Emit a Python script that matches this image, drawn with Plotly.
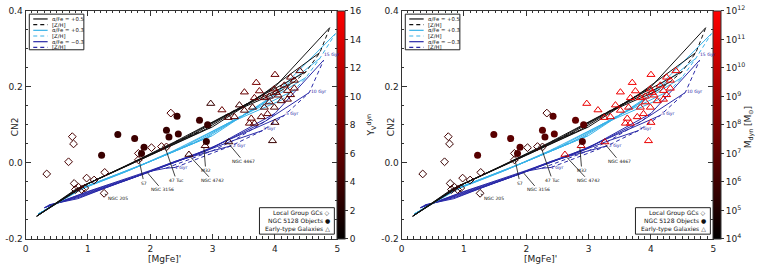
import plotly.graph_objects as go

W, H = 759, 269

# ---------------- observational data ----------------
# Local Group globular clusters (open diamonds)
GC_X = [0.34, 0.69, 0.75, 0.77, 0.78, 0.80, 0.85, 0.90, 0.95, 0.98, 1.10, 1.27, 1.26, 1.81, 1.81, 2.02, 2.18, 2.26, 2.33]
GC_Y = [-0.029, 0.003, 0.069, 0.050, -0.054, -0.070, -0.064, -0.070, -0.066, -0.040, -0.045, -0.025, -0.080, 0.025, 0.008, 0.040, 0.043, 0.042, 0.131]
GC_UPS = [4.0, 4.5, 4.5, 4.0, 3.5, 4.0, 4.5, 4.0, 4.5, 4.5, 4.0, 4.5, 4.0, 5.0, 4.5, 4.5, 5.0, 4.5, 5.0]
GC_LOGM = [5.9, 5.7, 6.1, 5.8, 5.6, 5.7, 5.9, 5.7, 5.8, 6.0, 5.8, 5.9, 5.6, 6.1, 5.9, 5.8, 6.2, 5.9, 6.3]

# NGC 5128 objects (filled circles)
N5128_X = [1.22, 1.48, 1.75, 1.86, 1.90, 2.26, 2.30, 2.45, 2.43, 2.79, 2.92, 2.90]
N5128_Y = [0.020, 0.075, 0.064, 0.025, 0.041, 0.086, 0.068, 0.076, 0.123, 0.112, 0.100, 0.056]
N5128_UPS = [3.6, 3.4, 3.8, 3.5, 3.7, 3.4, 3.6, 3.8, 3.5, 3.9, 3.6, 3.4]
N5128_LOGM = [6.7, 6.8, 6.9, 6.6, 6.8, 6.9, 6.7, 7.0, 6.8, 7.1, 6.9, 6.6]

# Early-type galaxies (open triangles)
ETG_X = [2.62, 2.88, 2.97, 3.15, 3.25, 3.26, 3.43, 3.35, 3.51, 3.51, 3.59, 3.62, 3.64, 3.67, 3.67, 3.70, 3.75, 3.78, 3.83, 3.83,
         3.88, 3.91, 3.91, 3.96, 3.99, 3.99, 4.00, 4.00, 4.02, 4.05, 4.10, 4.15, 4.20, 4.20, 4.25, 4.25, 4.31, 4.31, 4.40]
ETG_Y = [0.022, 0.045, 0.156, 0.139, 0.119, 0.055, 0.152, 0.121, 0.186, 0.138, 0.104, 0.117, 0.146, 0.104, 0.171, 0.211, 0.189, 0.121, 0.146, 0.171,
         0.129, 0.175, 0.160, 0.058, 0.146, 0.194, 0.106, 0.232, 0.185, 0.178, 0.163, 0.204, 0.190, 0.167, 0.225, 0.179, 0.217, 0.196, 0.242]
ETG_UPS = [4.0, 4.5, 3.5, 6.5, 5.0, 3.5, 4.0, 5.5, 6.5, 5.0, 6.0, 6.5, 4.5, 5.5, 6.5, 7.5, 7.0, 5.5, 5.0, 6.5,
           6.0, 6.5, 5.5, 3.5, 5.0, 7.0, 4.0, 6.5, 7.0, 6.0, 5.5, 7.0, 6.5, 5.5, 6.5, 6.0, 6.0, 6.5, 5.5]
ETG_LOGM = [10.8, 10.2, 11.4, 11.2, 11.0, 10.6, 11.3, 11.2, 11.5, 11.1, 11.3, 11.4, 11.2, 11.3, 11.4, 11.6, 11.5, 11.2, 11.2, 11.4,
            11.3, 11.5, 11.2, 11.4, 11.2, 11.5, 11.3, 11.6, 11.5, 11.4, 11.3, 11.5, 11.4, 11.2, 11.5, 11.3, 11.4, 11.5, 11.4]

# ---------------- SSP model grids ----------------
# rows = ages, columns = [Z/H] from metal-poor to metal-rich
A05_AGES = ["2 Gyr", "3 Gyr", "5 Gyr", "10 Gyr", "15 Gyr"]
A05_X = [[0.18, 0.80, 1.60, 2.40, 3.20, 4.10],
         [0.18, 0.85, 1.70, 2.55, 3.40, 4.30],
         [0.18, 0.90, 1.80, 2.70, 3.60, 4.50],
         [0.18, 0.95, 1.90, 2.85, 3.80, 4.72],
         [0.18, 1.00, 2.00, 3.00, 4.00, 4.88]]
A05_Y = [[-0.140, -0.070, -0.008, 0.056, 0.125, 0.190],
         [-0.140, -0.066, -0.001, 0.066, 0.142, 0.212],
         [-0.140, -0.062, 0.006, 0.076, 0.160, 0.240],
         [-0.140, -0.058, 0.013, 0.085, 0.180, 0.290],
         [-0.140, -0.055, 0.020, 0.095, 0.200, 0.356]]

A03_AGES = ["2 Gyr", "3 Gyr", "5 Gyr", "10 Gyr", "15 Gyr"]
A03_X = [[0.20, 0.80, 1.60, 2.40, 3.20, 4.10],
         [0.20, 0.85, 1.70, 2.55, 3.40, 4.30],
         [0.20, 0.90, 1.80, 2.70, 3.60, 4.50],
         [0.20, 0.95, 1.90, 2.85, 3.80, 4.72],
         [0.20, 1.00, 2.00, 3.00, 4.00, 4.97]]
A03_Y = [[-0.135, -0.075, -0.024, 0.034, 0.100, 0.165],
         [-0.135, -0.071, -0.017, 0.043, 0.118, 0.190],
         [-0.135, -0.067, -0.010, 0.052, 0.135, 0.225],
         [-0.135, -0.063, -0.003, 0.062, 0.155, 0.275],
         [-0.135, -0.060, 0.004, 0.072, 0.180, 0.340]]

AM03_AGES = ["1 Gyr", "2 Gyr", "3 Gyr", "5 Gyr", "10 Gyr", "15 Gyr"]
AM03_X = [[0.38, 0.84, 1.50, 2.00, 2.25, 2.40],
          [0.36, 0.87, 1.65, 2.40, 3.00, 3.30],
          [0.34, 0.90, 1.75, 2.60, 3.35, 3.80],
          [0.32, 0.93, 1.85, 2.75, 3.60, 4.15],
          [0.30, 0.97, 1.93, 2.90, 3.85, 4.55],
          [0.30, 1.00, 2.00, 3.00, 4.00, 4.78]]
AM03_Y = [[-0.110, -0.094, -0.052, -0.022, -0.014, -0.012],
          [-0.112, -0.090, -0.044, 0.004, 0.032, 0.045],
          [-0.114, -0.086, -0.038, 0.015, 0.060, 0.085],
          [-0.116, -0.082, -0.032, 0.024, 0.085, 0.125],
          [-0.118, -0.078, -0.026, 0.032, 0.110, 0.185],
          [-0.118, -0.075, -0.020, 0.040, 0.130, 0.270]]

# text labels
AGE_LABELS = ["1 Gyr", "2 Gyr", "3 Gyr", "5 Gyr", "10 Gyr", "15 Gyr"]
OBJ_LABELS = ["NGC 205", "S7", "NGC 3156", "47 Tuc", "NGC 4742", "M32", "NGC 4467"]

# ---------------- layout helpers ----------------
OFF = [0.0, 379.0]
PL, PR, PT, PB = 22.7, 337.0, 6.0, 243.0
BLACK, LBLUE, DBLUE = "#111111", "#38b2e8", "#2a2aa8"
FONT = "DejaVu Sans"
SCALE = [[0.0, "rgb(0,0,0)"], [1.0, "rgb(255,0,0)"]]


def fx(p):
    return p / W


def fy(p):
    return 1 - p / H


fig = go.Figure()
shapes = []
annots = []


def note(x, y, text, size, color="#222", xanchor="center", angle=0, xref="paper", yref="paper"):
    annots.append(dict(x=x, y=y, xref=xref, yref=yref, text=text, showarrow=False,
                       xanchor=xanchor, yanchor="middle", textangle=angle,
                       font=dict(family=FONT, size=size, color=color)))


def add_grid(xs, ys, color, xa, ya):
    for x, y in zip(xs, ys):
        fig.add_trace(go.Scatter(x=x, y=y, mode="lines", line=dict(color=color, width=1),
                                 xaxis=xa, yaxis=ya, showlegend=False, hoverinfo="skip"))
    n = len(xs[0])
    for j in range(n - 3, n):
        fig.add_trace(go.Scatter(x=[r[j] for r in xs], y=[r[j] for r in ys], mode="lines",
                                 line=dict(color=color, width=1, dash="4px,3px"),
                                 xaxis=xa, yaxis=ya, showlegend=False, hoverinfo="skip"))


for k, (xa, ya, gcv, nv, ev, cax) in enumerate([
        ("x", "y", GC_UPS, N5128_UPS, ETG_UPS, "coloraxis"),
        ("x2", "y2", GC_LOGM, N5128_LOGM, ETG_LOGM, "coloraxis2")]):
    add_grid(AM03_X, AM03_Y, DBLUE, xa, ya)
    add_grid(A03_X, A03_Y, LBLUE, xa, ya)
    add_grid(A05_X, A05_Y, BLACK, xa, ya)

    fig.add_trace(go.Scatter(x=GC_X, y=GC_Y, mode="markers", xaxis=xa, yaxis=ya, showlegend=False,
                             marker=dict(symbol="diamond-open", size=6, color=gcv, coloraxis=cax,
                                         line=dict(width=1))))
    fig.add_trace(go.Scatter(x=ETG_X, y=ETG_Y, mode="markers", xaxis=xa, yaxis=ya, showlegend=False,
                             marker=dict(symbol="triangle-up-open", size=7, color=ev, coloraxis=cax,
                                         line=dict(width=1))))
    fig.add_trace(go.Scatter(x=N5128_X, y=N5128_Y, mode="markers", xaxis=xa, yaxis=ya, showlegend=False,
                             marker=dict(symbol="circle", size=7, color=nv, coloraxis=cax,
                                         line=dict(width=0))))

    o = OFF[k]
    # age labels (dark blue)
    for t, (ax_, ay_) in zip(AGE_LABELS, [(2.50, -0.013), (3.42, 0.046), (3.90, 0.090),
                                          (4.27, 0.131), (4.70, 0.187), (4.90, 0.286)]):
        note(ax_, ay_, t, 4.5, DBLUE, xref=xa, yref=ya)
    # object labels with leader lines
    for t, (tx, ty), (lx, ly) in zip(OBJ_LABELS,
                                     [(1.27, -0.082), (1.82, 0.008), (1.95, -0.025), (2.23, 0.045),
                                      (2.62, 0.020), (2.86, 0.040), (3.27, 0.048)],
                                     [(1.48, -0.094), (1.90, -0.053), (2.19, -0.071), (2.42, -0.046),
                                      (3.00, -0.047), (2.89, -0.020), (3.50, 0.003)]):
        annots.append(dict(x=tx, y=ty, xref=xa, yref=ya, ax=lx, ay=ly, axref=xa, ayref=ya,
                           text=t, showarrow=True, arrowhead=0, arrowwidth=0.8, arrowcolor="#111",
                           xanchor="center", yanchor="middle",
                           font=dict(family=FONT, size=4.5, color="#111")))

    # upper-left model legend
    shapes.append(dict(type="rect", xref="paper", yref="paper", x0=fx(o + 26.5), x1=fx(o + 81.5),
                       y0=fy(46.5), y1=fy(9.5), line=dict(color="#222", width=1), fillcolor="white"))
    rows = [("α/Fe = +0.5", BLACK, "solid"), ("[Z/H]", BLACK, "4px,3px"),
            ("α/Fe = +0.3", LBLUE, "solid"), ("[Z/H]", LBLUE, "4px,3px"),
            ("α/Fe = −0.3", DBLUE, "solid"), ("[Z/H]", DBLUE, "4px,3px")]
    for i, (t, c, d) in enumerate(rows):
        yy = 14.5 + i * 5.9
        shapes.append(dict(type="line", xref="paper", yref="paper", x0=fx(o + 30.5), x1=fx(o + 45),
                           y0=fy(yy), y1=fy(yy), line=dict(color=c, width=1.2, dash=d)))
        note(fx(o + 47.5), fy(yy), t, 5.3, "#111", xanchor="left")

    # lower-right symbol legend
    shapes.append(dict(type="rect", xref="paper", yref="paper", x0=fx(o + 258.5), x1=fx(o + 334),
                       y0=fy(238), y1=fy(210.5), line=dict(color="#222", width=1), fillcolor="white"))
    for i, t in enumerate(["Local Group GCs ◇", "NGC 5128 Objects ●", "Early-type Galaxies △"]):
        note(fx(o + 332), fy(216.5 + i * 8), t, 6, "#111", xanchor="right")

    # axis titles
    note(fx(o + 12), fy(126), "CN2", 9, angle=-90)
    note(fx(o + 163), fy(263.5), "[MgFe]'", 9)

# colorbar titles
note(fx(371), fy(125), "Υ<sub>V</sub><sup>dyn</sup>", 9, angle=-90)
note(fx(752), fy(127), "M<sub>dyn</sub> [M<sub>⊙</sub>]", 9, angle=-90)

axis_common = dict(showline=True, linecolor="#333", linewidth=1, mirror="allticks", ticks="inside",
                   ticklen=5, tickcolor="#333", showgrid=False, zeroline=False,
                   tickfont=dict(family=FONT, size=9, color="#222"))
xcommon = dict(axis_common, range=[0, 5], tickvals=[0, 1, 2, 3, 4, 5], ticklabelstandoff=1,
               minor=dict(dtick=0.1, ticklen=2.5, ticks="inside", tickcolor="#333"))
ycommon = dict(axis_common, range=[-0.2, 0.4], tickvals=[-0.2, 0.0, 0.2, 0.4],
               ticktext=["-0.2", "0.0", "0.2", "0.4"],
               minor=dict(dtick=0.05, ticklen=2.5, ticks="inside", tickcolor="#333"))

ydom = [fy(PB), fy(PT)]
cb_common = dict(thickness=8, thicknessmode="pixels", len=(PB - PT) / H, lenmode="fraction",
                 y=1 - (PT + PB) / 2 / H, yanchor="middle", xanchor="left", xpad=0, ypad=0,
                 outlinewidth=1, outlinecolor="#333", ticks="outside", ticklen=3, tickcolor="#333",
                 tickfont=dict(family=FONT, size=9, color="#222"))

fig.update_layout(
    width=W, height=H, margin=dict(l=0, r=0, t=0, b=0),
    paper_bgcolor="white", plot_bgcolor="white", showlegend=False,
    xaxis=dict(xcommon, domain=[fx(PL), fx(PR)], anchor="y"),
    yaxis=dict(ycommon, domain=ydom, anchor="x"),
    xaxis2=dict(xcommon, domain=[fx(PL + 379), fx(PR + 379)], anchor="y2"),
    yaxis2=dict(ycommon, domain=ydom, anchor="x2"),
    coloraxis=dict(colorscale=SCALE, cmin=0, cmax=16,
                   colorbar=dict(cb_common, x=fx(PR), tickvals=list(range(0, 17, 2)))),
    coloraxis2=dict(colorscale=SCALE, cmin=4, cmax=12,
                    colorbar=dict(cb_common, x=fx(PR + 379), tickvals=list(range(4, 13)),
                                  ticktext=["10<sup>%d</sup>" % v for v in range(4, 13)])),
    shapes=shapes, annotations=annots,
)

fig.write_html("out.html")
